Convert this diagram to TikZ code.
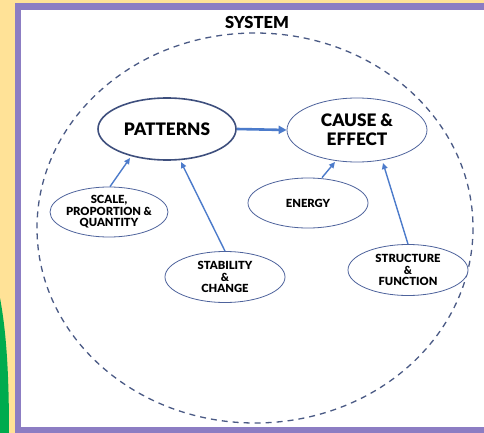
\documentclass[tikz,border=0pt]{standalone}
\usepackage{fontspec}
\setmainfont{Lato}[BoldFont={Lato Black}]
\usetikzlibrary{shapes.geometric,arrows.meta}
\definecolor{bgyellow}{HTML}{FFE297}
\definecolor{framepurple}{HTML}{8C7DC3}
\definecolor{leafgreen}{HTML}{00AB4E}
\definecolor{dashblue}{HTML}{4A5A85}
\definecolor{ovalblue}{HTML}{4E639C}
\definecolor{arrowblue}{HTML}{4C7BCB}
\tikzset{
  oval/.style={ellipse, draw=ovalblue, line width=0.8pt, fill=white, inner sep=0pt},
  bigtext/.style={font=\fontsize{17.2}{19}\selectfont\bfseries, align=center, text=black},
  smalltext/.style={font=\fontsize{11.2}{11.5}\selectfont\bfseries, align=center, text=black},
  link/.style={draw=arrowblue, line width=1.4pt, -{Triangle[length=6pt,width=5.5pt]}},
}
\begin{document}
\begin{tikzpicture}[x=1pt,y=-1pt]
\useasboundingbox (0,0) rectangle (484,433);
% background
\fill[bgyellow] (0,0) rectangle (484,433);
\fill[leafgreen] (0,298) .. controls (6,330) and (9,370) .. (9,433) -- (0,433) -- cycle;
\fill[framepurple] (15,3) rectangle (484,433);
\fill[white] (21,10) rectangle (484,427);
% system boundary
\draw[dashblue, line width=1.3pt, dash pattern=on 6pt off 5pt] (255,228) ellipse [x radius=218, y radius=195];
\node[font=\fontsize{16.5}{17}\selectfont\bfseries] (sys) at (257,22) {SYSTEM};
% ovals
\node[oval, draw=ovalblue!80!black, line width=1.6pt, minimum width=138pt, minimum height=62pt] (pat) at (167,129) {};
\node[bigtext] at (pat) {PATTERNS};
\node[oval, minimum width=140pt, minimum height=64pt] (cause) at (357,130) {};
\node[bigtext] at (cause) {CAUSE \&\\EFFECT};
\node[oval, minimum width=118pt, minimum height=50pt] (scale) at (109,212) {};
\node[smalltext] at (scale) {SCALE,\\PROPORTION \&\\QUANTITY};
\node[oval, minimum width=120pt, minimum height=51pt] (stab) at (225,277) {};
\node[smalltext] at (stab) {STABILITY\\\&\\CHANGE};
\node[oval, minimum width=120pt, minimum height=50pt] (energy) at (308,203) {};
\node[smalltext] at (energy) {ENERGY};
\node[oval, minimum width=120pt, minimum height=51pt] (struct) at (408,270) {};
\node[smalltext] at (struct) {STRUCTURE\\\&\\FUNCTION};
% connectors
\draw[link, line width=2.6pt, -{Triangle[length=8pt,width=8pt]}] (pat.east) -- (cause.west);
\draw[link] (scale.north) ++(1,0) coordinate (s1) (s1) -- (130,158);
\draw[link] (stab.north) -- (181,162);
\draw[link] (energy.north) ++(14,0) -- (335,162);
\draw[link] (struct.north) -- (383,163);
\end{tikzpicture}
\end{document}
